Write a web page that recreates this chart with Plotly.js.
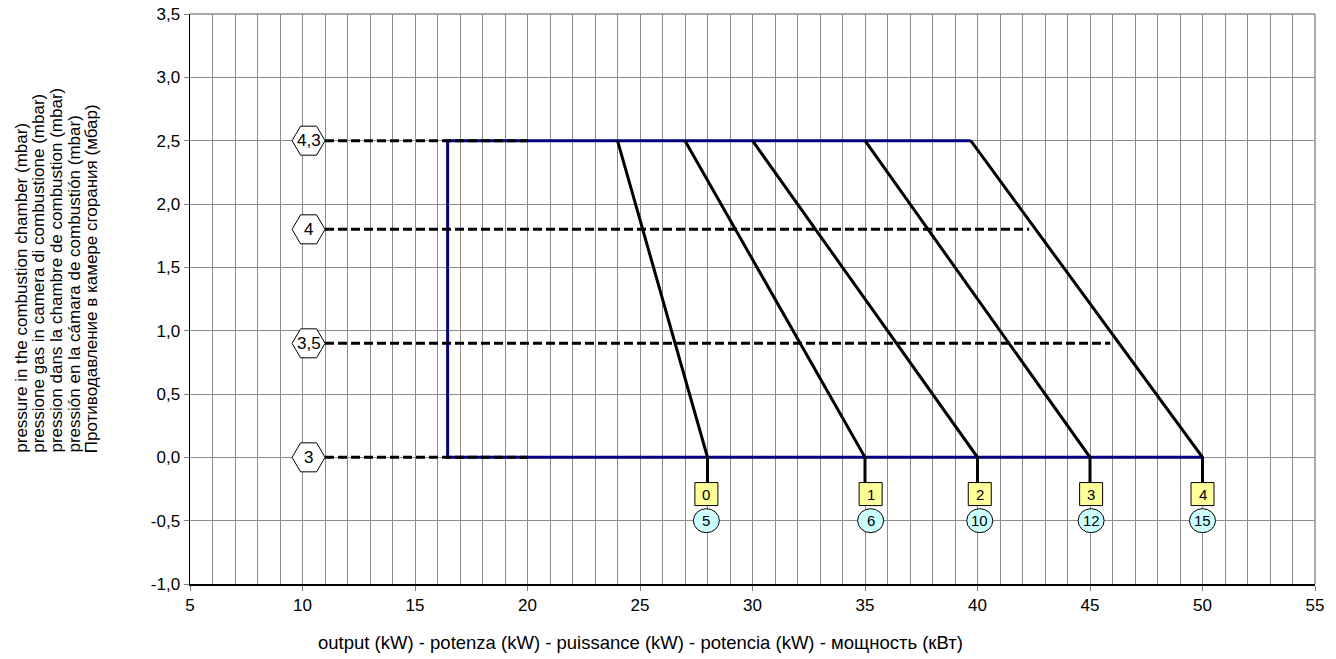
<!DOCTYPE html>
<html>
<head>
<meta charset="utf-8">
<script src="https://cdn.plot.ly/plotly-3.0.1.min.js"></script>
<style>html,body{margin:0;padding:0;background:#fff;}#chart{width:1336px;height:659px;}</style>
</head>
<body>
<div id="chart"></div>
<script>
// ---- data ----
const hexLabels = ['4,3', '4', '3,5', '3'];
const hexY = [2.5, 1.8, 0.9, 0];
const hexX = 10.27;
const dashStartX = 11;
const dashEndX = [20, 42.3, 45.9, 20];

const slopeTopX = [24, 27, 30, 35, 39.7];
const slopeBottomX = [28, 35, 40, 45, 50];
const topY = 2.5;
const bottomY = 0;
const stemEndY = -0.2;

const frameLeftX = 16.45;

const boxLabels = ['0', '1', '2', '3', '4'];
const boxX = [27.95, 35.25, 40.1, 45.05, 50];
const boxY = -0.29;
const circleLabels = ['5', '6', '10', '12', '15'];
const circleX = [27.95, 35.25, 40.1, 45.05, 50];
const circleY = -0.5;

const xTickVals = [5, 10, 15, 20, 25, 30, 35, 40, 45, 50, 55];
const xTickText = ['5', '10', '15', '20', '25', '30', '35', '40', '45', '50', '55'];
const yTickVals = [-1, -0.5, 0, 0.5, 1, 1.5, 2, 2.5, 3, 3.5];
const yTickText = ['-1,0', '-0,5', '0,0', '0,5', '1,0', '1,5', '2,0', '2,5', '3,0', '3,5'];

const xTitle = 'output (kW) - potenza (kW) - puissance (kW) - potencia (kW) - мощность (кВт)';
const yTitleLines = [
  'pressure in the combustion chamber (mbar)',
  'pressione gas in camera di combustione (mbar)',
  'pression dans la chambre de combustion (mbar)',
  'pressión en la cámara de combustión (mbar)',
  'Противодавление в камере сгорания (мбар)'
];

// ---- build ----
const FONT = '"Liberation Sans", Arial, sans-serif';
const traces = [];
// blue frame
traces.push({
  x: [slopeBottomX[slopeBottomX.length - 1], frameLeftX, frameLeftX, slopeTopX[slopeTopX.length - 1]],
  y: [bottomY, bottomY, topY, topY],
  mode: 'lines', line: {color: '#000080', width: 3}, hoverinfo: 'skip'
});
// slanted lines with stems
for (let i = 0; i < slopeTopX.length; i++) {
  traces.push({
    x: [slopeTopX[i], slopeBottomX[i], slopeBottomX[i]],
    y: [topY, bottomY, stemEndY],
    mode: 'lines', line: {color: '#000000', width: 3}, hoverinfo: 'skip'
  });
}
// dashed levels
for (let i = 0; i < hexY.length; i++) {
  traces.push({
    x: [dashStartX, dashEndX[i]],
    y: [hexY[i], hexY[i]],
    mode: 'lines', line: {color: '#000000', width: 3, dash: '9px,4px'}, hoverinfo: 'skip'
  });
}

const shapes = [];
const annotations = [];
const pix = {xref: 'x', yref: 'y', xsizemode: 'pixel', ysizemode: 'pixel', layer: 'above'};
for (let i = 0; i < hexY.length; i++) {
  shapes.push(Object.assign({}, pix, {
    type: 'path', xanchor: hexX, yanchor: hexY[i],
    path: 'M-16.5,0L-8,14.5L8,14.5L16.5,0L8,-14.5L-8,-14.5Z',
    fillcolor: '#ffffff', line: {color: '#000000', width: 1}
  }));
  annotations.push({x: hexX, y: hexY[i], xref: 'x', yref: 'y', text: hexLabels[i], showarrow: false,
    font: {family: FONT, size: 17, color: '#000'}});
}
for (let i = 0; i < circleX.length; i++) {
  shapes.push(Object.assign({}, pix, {
    type: 'circle', xanchor: circleX[i], yanchor: circleY,
    x0: -13, x1: 13, y0: -12, y1: 12,
    fillcolor: '#ccffff', line: {color: '#000000', width: 1}
  }));
  annotations.push({x: circleX[i], y: circleY, xref: 'x', yref: 'y', text: circleLabels[i], showarrow: false,
    font: {family: FONT, size: 15, color: '#000'}});
}
for (let i = 0; i < boxX.length; i++) {
  shapes.push(Object.assign({}, pix, {
    type: 'rect', xanchor: boxX[i], yanchor: boxY,
    x0: -11.5, x1: 11.5, y0: -11.5, y1: 11.5,
    fillcolor: '#ffff99', line: {color: '#000000', width: 1}
  }));
  annotations.push({x: boxX[i], y: boxY, xref: 'x', yref: 'y', text: boxLabels[i], showarrow: false,
    font: {family: FONT, size: 15, color: '#000'}});
}
// plot border top/right
shapes.push({type: 'line', xref: 'paper', yref: 'paper', x0: 0, x1: 1, y0: 1, y1: 1, line: {color: '#555', width: 1}, layer: 'below'});
shapes.push({type: 'line', xref: 'paper', yref: 'paper', x0: 1, x1: 1, y0: 0, y1: 1, line: {color: '#555', width: 1}, layer: 'below'});

// y title lines
const yLinePx = [20.7, 38.3, 56, 74, 91.7];
for (let i = 0; i < yTitleLines.length; i++) {
  annotations.push({
    xref: 'paper', yref: 'paper', x: (yLinePx[i] - 190) / 1125, y: (584 - 455) / 570,
    xanchor: 'center', yanchor: 'bottom', textangle: -90, showarrow: false,
    text: yTitleLines[i], font: {family: FONT, size: 17, color: '#000'}
  });
}
annotations.push({
  xref: 'paper', yref: 'paper', x: (640.5 - 190) / 1125, y: (584 - 642) / 570,
  xanchor: 'center', yanchor: 'middle', showarrow: false,
  text: xTitle, font: {family: FONT, size: 18.5, color: '#000'}
});

const layout = {
  width: 1336, height: 659,
  margin: {l: 190, r: 21, t: 14, b: 75, pad: 0},
  paper_bgcolor: '#fff', plot_bgcolor: '#fff',
  showlegend: false,
  separators: ', ',
  font: {family: FONT, size: 17, color: '#000'},
  xaxis: {
    range: [5, 55], tickmode: 'array', tickvals: xTickVals, ticktext: xTickText,
    showgrid: true, gridcolor: '#8c8c8c', gridwidth: 1,
    minor: {dtick: 1, tick0: 5, showgrid: true, gridcolor: '#8c8c8c', gridwidth: 1},
    zeroline: false, showline: true, linecolor: '#000', linewidth: 1.5,
    ticks: 'outside', ticklen: 5, tickcolor: '#808080',
    tickfont: {family: FONT, size: 17, color: '#000'}, fixedrange: true
  },
  yaxis: {
    range: [-1, 3.5], tickmode: 'array', tickvals: yTickVals, ticktext: yTickText,
    showgrid: true, gridcolor: '#8c8c8c', gridwidth: 1,
    zeroline: false, showline: true, linecolor: '#000', linewidth: 1.5,
    ticks: 'outside', ticklen: 5, tickcolor: '#808080',
    tickfont: {family: FONT, size: 17, color: '#000'}, fixedrange: true
  },
  shapes: shapes,
  annotations: annotations
};

Plotly.newPlot('chart', traces, layout, {displayModeBar: false, staticPlot: true});
</script>
</body>
</html>
